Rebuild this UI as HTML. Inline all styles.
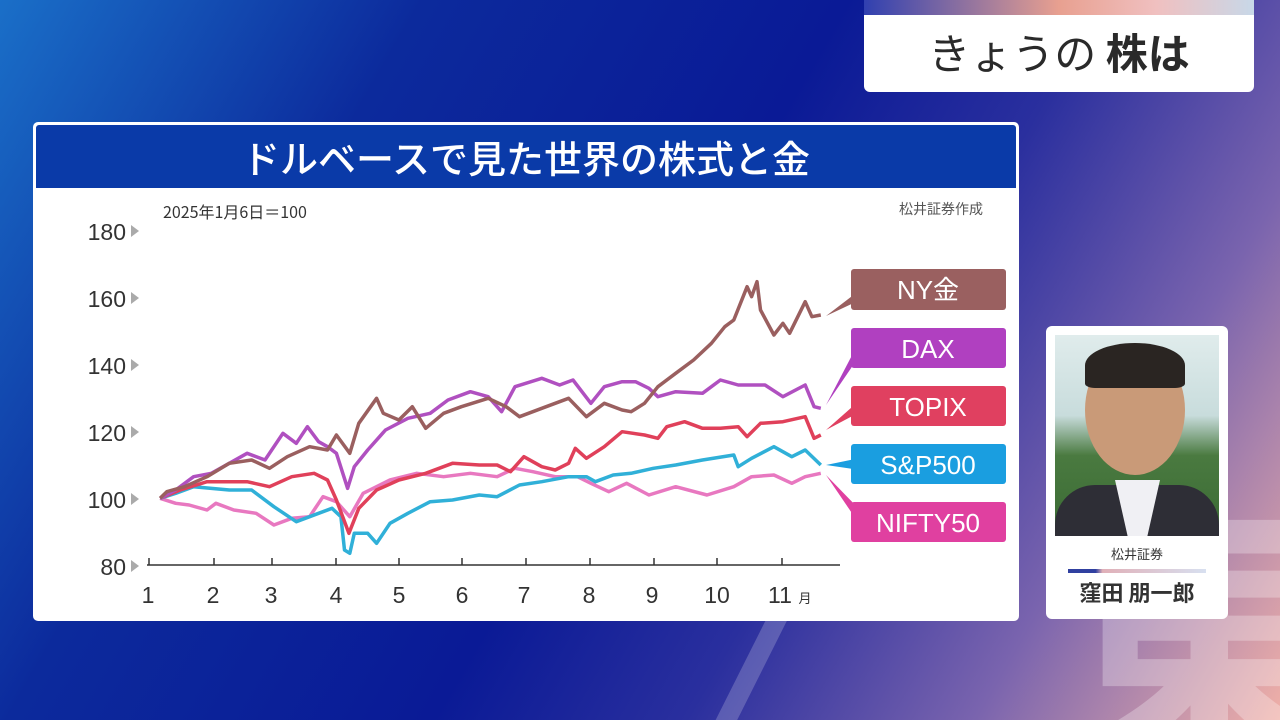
<!DOCTYPE html>
<html style="width:1280px;height:720px;overflow:hidden;margin:0"><head><meta charset="utf-8"><style>
html,body{margin:0;width:1280px;height:720px;overflow:hidden}
body{position:relative;font-family:"Liberation Sans","Noto Sans CJK JP",sans-serif;
background:linear-gradient(120deg,#1a6fc8 0%,#0c2a9c 25%,#0a1a96 50%,#2a2f9e 65%,#7a64ae 82%,#f0b0a8 100%);}
.abs{position:absolute}
</style></head><body>
<div class="abs" style="left:0;top:0;width:1280px;height:720px;overflow:hidden">
<div class="abs" style="left:1060px;top:470px;font-size:300px;font-weight:bold;color:rgba(255,255,255,0.28);font-family:'Noto Sans CJK JP',sans-serif;line-height:1">東</div>
<div class="abs" style="left:700px;top:520px;font-size:220px;font-weight:bold;color:rgba(255,255,255,0.2);font-family:'Noto Sans CJK JP',sans-serif;line-height:1;font-style:italic">/</div>
</div>
<!-- top card -->
<div class="abs" style="left:864px;top:0;width:390px;height:92px;background:#fff;border-radius:0 0 6px 6px;overflow:hidden">
 <div style="height:15px;background:linear-gradient(90deg,#3040b0,#e8a090 50%,#f0c0c0 75%,#c8d8e8)"></div>
 <div style="text-align:center;font-size:42px;color:#2a2a2a;line-height:74px;font-family:'Noto Sans CJK JP',sans-serif">きょうの <b>株は</b></div>
</div>
<!-- chart panel -->
<div class="abs" style="left:33px;top:122px;width:986px;height:499px;background:#fff;border-radius:5px;overflow:hidden">
 <div style="margin:3px 3px 0 3px;height:63px;background:#0a3aa8;border-radius:3px 3px 0 0;color:#fff;text-align:center;font-size:38px;line-height:63px;font-family:'Noto Sans CJK JP',sans-serif;font-weight:500">ドルベースで見た世界の株式と金</div>
</div>
<div class="abs" style="left:163px;top:199px;font-size:16px;color:#333;font-family:'Noto Sans CJK JP',sans-serif">2025年1月6日＝100</div>
<div class="abs" style="left:899px;top:199px;font-size:14px;color:#555;font-family:'Noto Sans CJK JP',sans-serif">松井証券作成</div>
<svg class="abs" style="left:0;top:0" width="1280" height="720" id="ch">
 <g font-family="Liberation Sans, sans-serif" font-size="23" fill="#333" text-anchor="end">
  <text x="126" y="240">180</text><text x="126" y="307">160</text><text x="126" y="374">140</text><text x="126" y="441">120</text><text x="126" y="508">100</text><text x="126" y="575">80</text>
 </g>
 <g fill="#aaa"><path d="M131,225l8,6l-8,6z"/><path d="M131,292l8,6l-8,6z"/><path d="M131,359l8,6l-8,6z"/><path d="M131,426l8,6l-8,6z"/><path d="M131,493l8,6l-8,6z"/><path d="M131,560l8,6l-8,6z"/></g>
 <line x1="147" y1="565" x2="840" y2="565" stroke="#333" stroke-width="1.5"/>
 <g stroke="#333" stroke-width="1.5" id="ticks"></g>
 <g font-family="Liberation Sans, sans-serif" font-size="23" fill="#333" text-anchor="middle">
  <text x="148" y="603">1</text><text x="213" y="603">2</text><text x="271" y="603">3</text><text x="336" y="603">4</text><text x="399" y="603">5</text><text x="462" y="603">6</text><text x="524" y="603">7</text><text x="589" y="603">8</text><text x="652" y="603">9</text><text x="717" y="603">10</text><text x="780" y="603">11</text>
  <text x="805" y="603" font-size="13" font-family="Noto Sans CJK JP, sans-serif">月</text>
 </g>
 <g id="lines" fill="none" stroke-width="3.5" stroke-linejoin="round"></g>
 <g font-family="Liberation Sans, Noto Sans CJK JP, sans-serif" font-size="26" fill="#fff" text-anchor="middle">
  <path d="M826,316L860,290L860,300z" fill="#9a6060"/><rect x="851" y="269" width="155" height="41" rx="3" fill="#9a6060"/><text x="928" y="299">NY金</text>
  <path d="M826,405L860,340L860,355z" fill="#b040c0"/><rect x="851" y="328" width="155" height="40" rx="3" fill="#b040c0"/><text x="928" y="358">DAX</text>
  <path d="M826,430L860,400L860,412z" fill="#e04060"/><rect x="851" y="386" width="155" height="40" rx="3" fill="#e04060"/><text x="928" y="416">TOPIX</text>
  <path d="M826,465L860,458L860,470z" fill="#1a9ee0"/><rect x="851" y="444" width="155" height="40" rx="3" fill="#1a9ee0"/><text x="928" y="474">S&amp;P500</text>
  <path d="M826,475L860,510L860,525z" fill="#e040a0"/><rect x="851" y="502" width="155" height="40" rx="3" fill="#e040a0"/><text x="928" y="532">NIFTY50</text>
 </g>
</svg>
<!-- person card -->
<div class="abs" style="left:1046px;top:326px;width:182px;height:293px;background:#fff;border-radius:6px">
 <div style="position:absolute;left:9px;top:9px;width:164px;height:201px;overflow:hidden;background:linear-gradient(#e0ecec 0%,#c8dcdc 40%,#4a7a40 60%,#3a6a34 100%)">
  <div style="position:absolute;left:30px;top:10px;width:100px;height:130px;border-radius:50%;background:#c99a78"></div>
  <div style="position:absolute;left:30px;top:8px;width:100px;height:45px;border-radius:50% 50% 10% 10%;background:#2a2522"></div>
  <div style="position:absolute;left:0;top:150px;width:164px;height:60px;background:#2e2e36;border-radius:40px 40px 0 0"></div>
  <div style="position:absolute;left:60px;top:145px;width:45px;height:60px;background:#f0f0f4;clip-path:polygon(0 0,100% 0,70% 100%,30% 100%)"></div>
 </div>
 <div style="position:absolute;top:218px;width:182px;text-align:center;font-size:13px;color:#333;font-family:'Noto Sans CJK JP',sans-serif">松井証券</div>
 <div style="position:absolute;left:22px;top:243px;width:138px;height:4px;background:linear-gradient(90deg,#3040a0 20%,#e0b0b8 25%,#d8e0f0)"></div>
 <div style="position:absolute;top:250px;width:182px;text-align:center;font-size:22px;font-weight:bold;color:#333;font-family:'Noto Sans CJK JP',sans-serif">窪田 朋一郎</div>
</div>
<script>
var ns="http://www.w3.org/2000/svg";
var tk=[149,214,272,336,399,462,526,590,654,717,782];
var tg=document.getElementById("ticks");
tk.forEach(function(x){var l=document.createElementNS(ns,"line");l.setAttribute("x1",x);l.setAttribute("x2",x);l.setAttribute("y1",558);l.setAttribute("y2",565);tg.appendChild(l);});
var S={
"#e878c0":[45,715,80,730,110,735,150,750,170,730,210,750,260,760,300,795,340,775,380,770,410,710,440,725,470,770,500,700,560,660,620,640,680,650,740,640,800,650,840,625,880,635,930,650,980,650,1010,670,1050,695,1090,670,1140,705,1200,680,1270,705,1330,680,1370,650,1420,645,1460,670,1490,650,1525,640],
"#30b0d8":[45,715,80,700,120,680,200,690,250,690,300,740,350,785,400,760,430,745,450,770,458,870,470,880,480,820,510,820,530,850,560,790,600,760,650,725,700,720,760,705,800,710,850,675,900,665,960,650,1000,650,1020,665,1060,645,1100,640,1150,625,1200,615,1260,600,1330,585,1340,620,1370,595,1420,560,1460,590,1490,570,1525,615],
"#e0405a":[45,715,90,690,150,665,200,665,240,665,290,680,340,650,390,640,420,660,440,720,468,820,490,745,530,690,580,660,640,640,700,610,760,615,800,615,830,635,860,590,900,620,930,630,960,610,975,565,1000,595,1040,560,1080,515,1130,525,1160,535,1180,500,1220,485,1260,505,1300,505,1340,500,1360,530,1390,490,1440,485,1490,470,1510,535,1525,525],
"#b050c0":[45,715,80,690,120,650,160,640,200,610,240,580,280,600,320,520,350,550,375,500,400,545,420,560,440,580,465,685,480,620,510,570,550,510,600,475,650,460,690,420,740,395,780,410,810,455,840,380,900,355,940,375,970,360,1010,430,1040,380,1080,365,1110,365,1140,385,1160,410,1200,395,1260,400,1300,360,1340,375,1400,375,1440,410,1490,375,1510,440,1525,445],
"#9a5f5f":[45,715,60,695,100,680,150,650,200,610,250,600,290,625,330,590,380,560,420,570,440,525,470,580,490,490,530,415,545,460,580,480,610,440,640,505,680,460,720,440,780,415,820,440,850,470,900,445,960,415,1000,470,1040,430,1080,450,1100,455,1130,430,1160,380,1200,340,1240,300,1280,250,1310,200,1330,180,1360,80,1370,110,1382,65,1390,150,1420,225,1440,190,1455,220,1490,125,1505,170,1525,165]};
var g=document.getElementById("lines");
for(var c in S){var a=S[c],p=[];for(var i=0;i<a.length;i+=2){p.push((140+a[i]/2.24).toFixed(1)+","+(260+a[i+1]/3).toFixed(1));}
var pl=document.createElementNS(ns,"polyline");pl.setAttribute("points",p.join(" "));pl.setAttribute("stroke",c);g.appendChild(pl);}
</script>
</body></html>
